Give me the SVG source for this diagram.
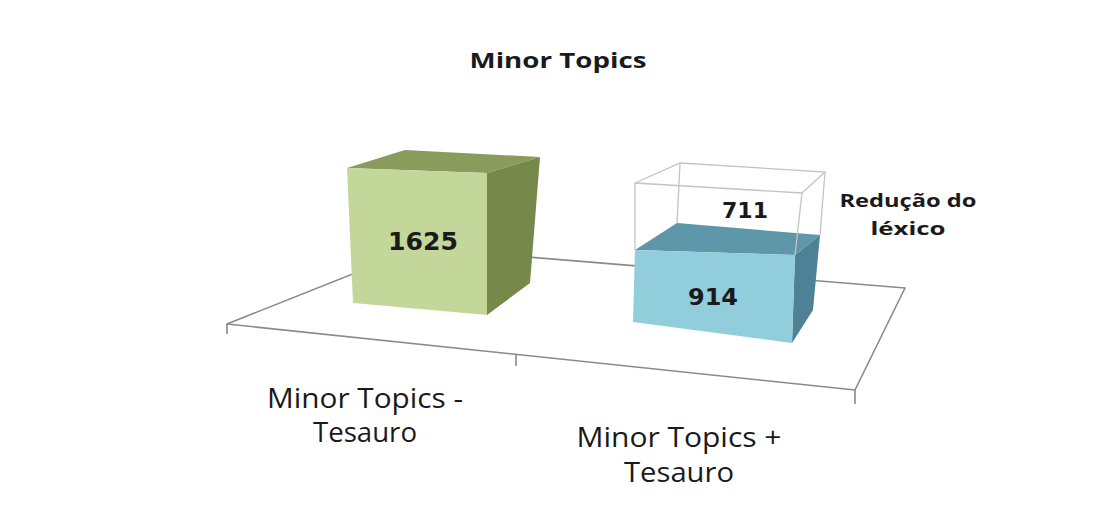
<svg xmlns="http://www.w3.org/2000/svg" width="1095" height="526" viewBox="0 0 1095 526">
<style>
.floor{fill:none;stroke:#8a8a8a;stroke-width:1.6;stroke-linejoin:round}
.wire{fill:none;stroke:#c4c4c4;stroke-width:1.3}
.num{font-family:"DejaVu Sans",Verdana,sans-serif;font-weight:bold;fill:#1a1a1a;text-anchor:middle}
.lbl{font-family:"Open Sans","Liberation Sans",sans-serif;fill:#1a1a1a;text-anchor:middle}
.b{font-weight:bold}
</style>
<rect width="1095" height="526" fill="#ffffff"/>
<g id="floor" class="floor">
<polyline points="418,248 227,324 855,390 905,288 418,248"/>
<line x1="227" y1="324" x2="227" y2="334"/>
<line x1="516" y1="355" x2="516" y2="366"/>
<line x1="855" y1="390" x2="855" y2="404"/>
</g>
<text id="title" class="lbl b" x="558" y="68" font-size="21" textLength="177" lengthAdjust="spacingAndGlyphs">Minor Topics</text>
<g id="bar-minus">
<polygon points="347,168 405,150 540,157 487,173" fill="#8b9b5c"/>
<polygon points="487,173 540,157 530,283 487,315" fill="#76894a"/>
<polygon points="347,168 487,173 487,315 353,303" fill="#c4d79b"/>
<text class="num" x="423" y="250" font-size="25" textLength="70" lengthAdjust="spacingAndGlyphs">1625</text>
</g>
<g id="wire-box" class="wire">
<line x1="680" y1="163" x2="677" y2="223"/>
<line x1="825" y1="172" x2="820" y2="235"/>
</g>
<g id="bar-plus">
<polygon points="635,250 677,223 820,235 795,255" fill="#5f97aa"/>
<polygon points="795,255 820,235 813,310 792,343" fill="#4f8196"/>
<polygon points="635,250 795,255 792,343 633,322" fill="#92cddc"/>
<text class="num" x="713" y="305" font-size="23" textLength="50" lengthAdjust="spacingAndGlyphs">914</text>
</g>
<g id="reduction" class="wire">
<polygon points="635,183 680,163 825,172 802,193"/>
<line x1="635" y1="183" x2="635" y2="250"/>
<line x1="802" y1="193" x2="795" y2="255"/>
<text class="num" x="745" y="218" font-size="21" textLength="46" lengthAdjust="spacingAndGlyphs" stroke="none">711</text>
</g>
<g id="legend-text">
<text class="lbl b" x="908" y="207" font-size="18" textLength="137" lengthAdjust="spacingAndGlyphs">Redução do</text>
<text class="lbl b" x="908" y="235" font-size="18" textLength="75" lengthAdjust="spacingAndGlyphs">léxico</text>
</g>
<g id="axis-labels">
<text class="lbl" x="365" y="408" font-size="27" textLength="196" lengthAdjust="spacingAndGlyphs">Minor Topics -</text>
<text class="lbl" x="365" y="442" font-size="27" textLength="104" lengthAdjust="spacingAndGlyphs">Tesauro</text>
<text class="lbl" x="679" y="447" font-size="27" textLength="205" lengthAdjust="spacingAndGlyphs">Minor Topics +</text>
<text class="lbl" x="679" y="482" font-size="27" textLength="110" lengthAdjust="spacingAndGlyphs">Tesauro</text>
</g>
</svg>
